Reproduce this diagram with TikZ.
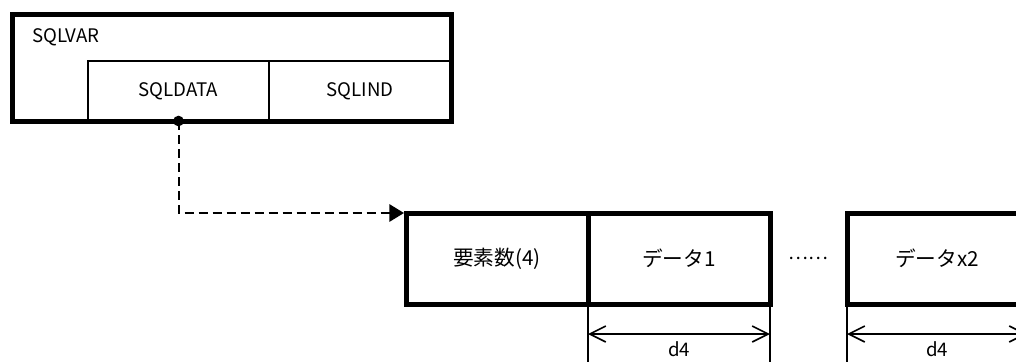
\documentclass[tikz,border=0pt]{standalone}
\usepackage{fontspec}
\setmainfont{Noto Sans CJK JP}
\usetikzlibrary{arrows.meta}

\begin{document}
\begin{tikzpicture}[
    x=0.75pt, y=-0.75pt,
    every node/.style={font=\fontsize{14}{16}\selectfont},
    cell/.style={rectangle, draw=black, line width=1pt, minimum height=45pt,
                 inner sep=0pt, outer sep=0pt},
    heavy/.style={rectangle, draw=black, line width=3.75pt, minimum height=68.25pt,
                  minimum width=136.5pt, inner sep=0pt, outer sep=0pt,
                  font=\fontsize{15.5}{17}\selectfont},
    ptr/.style={-{Triangle[length=11pt, width=13pt]}, line width=1.5pt,
                dash pattern=on 6.75pt off 3.75pt},
    ext/.style={line width=0.8pt},
    dimarr/.style={{Straight Barb[length=12pt, width=12pt]}-{Straight Barb[length=12pt, width=12pt]},
                   line width=1.2pt},
]
\useasboundingbox (0,0) rectangle (1016,361);
\clip (0,0) rectangle (1016,361);

% SQLVAR and its two fields
\node[cell, minimum width=135.75pt] (sqldata) at (178.5,91) {SQLDATA};
\node[cell, minimum width=136.5pt] (sqlind) at (360,91) {SQLIND};
\node[rectangle, draw=black, line width=3.75pt, minimum width=328.9pt,
      minimum height=80.25pt, outer sep=0pt] (sqlvar) at (231.75,67.5) {};
\node[anchor=west, inner sep=0pt] (title) at (32,37) {SQLVAR};

% data area pointed to by SQLDATA
\node[heavy] (cnt) at (497,258.5) {要素数(4)};
\node[heavy] (data1) at (679,258.5) {データ1};
\node (dots) at (808,258.5) {……};
\node[heavy, minimum width=135pt] (datax) at (937,258.5) {データx2};

\fill (sqldata.south) circle (4pt);
\draw[ptr, shorten >=1.5pt] (sqldata.south) |- (cnt.north west);

% element lengths
\draw[ext] (data1.south west) -- ++(0,60);
\draw[ext] (data1.south east) -- ++(0,60);
\draw[ext] (datax.south west) -- ++(0,60);
\draw[ext] (datax.south east) -- ++(0,60);
\draw[dimarr] ([yshift=-22.5pt]data1.south west) --
  node[below=5pt, inner sep=0pt] (len1) {d4} ([yshift=-22.5pt]data1.south east);
\draw[dimarr] ([yshift=-22.5pt]datax.south west) --
  node[below=5pt, inner sep=0pt] (len2) {d4} ([yshift=-22.5pt]datax.south east);
\end{tikzpicture}
\end{document}
